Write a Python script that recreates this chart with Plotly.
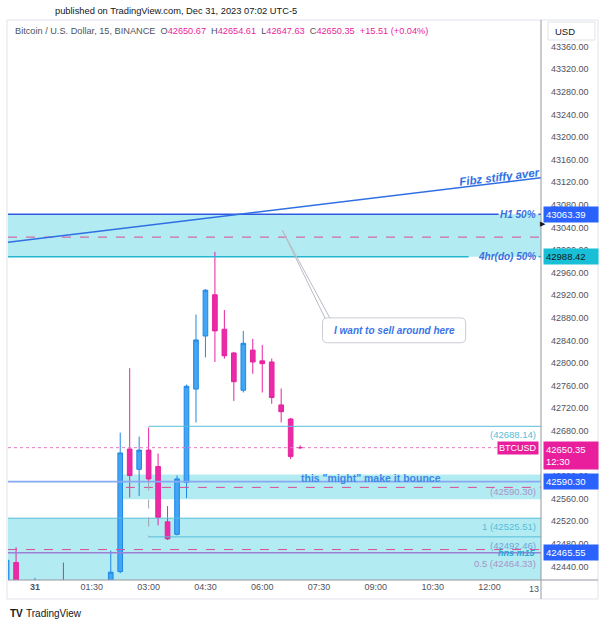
import plotly.graph_objects as go

# ---------------- data (15-min BTCUSD candles, Dec 30 23:15 .. Dec 31 07:00) ----------------
times = ["23:15", "23:30", "00:00", "00:45", "02:00", "02:15", "02:30", "02:45", "03:00",
         "03:15", "03:30", "03:45", "04:00", "04:15", "04:30", "04:45", "05:00", "05:15",
         "05:30", "05:45", "06:00", "06:15", "06:30", "06:45", "07:00"]
opens = [42380, 42447, 42390, 42412, 42395, 42431, 42648, 42612, 42646,
         42617, 42519, 42497, 42589, 42754, 42848, 42921, 42860, 42818,
         42752, 42823, 42804, 42802, 42726, 42701, 42650.67]
highs = [42452, 42474, 42420, 42447, 42468, 42677, 42791, 42670, 42686,
         42640, 42547, 42601, 42762, 42886, 42931, 42997, 42894, 42820,
         42857, 42843, 42832, 42808, 42755, 42703, 42654.61]
lows = [42360, 42370, 42370, 42380, 42385, 42428, 42562, 42565, 42588,
        42513, 42487, 42495, 42561, 42695, 42810, 42802, 42808, 42733,
        42748, 42781, 42748, 42728, 42695, 42630, 42647.63]
closes = [42451, 42395, 42405, 42395, 42430, 42641, 42601, 42646, 42595,
          42527, 42489, 42595, 42759, 42841, 42929, 42857, 42813, 42767,
          42835, 42802, 42799, 42739, 42714, 42634.84, 42650.35]

tick_hours = [0, 1.5, 3, 4.5, 6, 7.5, 9, 10.5, 12]
tick_text = ["<b>31</b>", "01:30", "03:00", "04:30", "06:00", "07:30", "09:00", "10:30", "12:00"]
price_ticks = [42440 + 40 * i for i in range(24)]  # 42440 .. 43360

# drawing levels
h1_level = 43063.39
h4_level = 42988.42
top_mid = 43023
bounce_level = 42590.30
bounce_top, bounce_bot, bounce_mid = 42603, 42559, 42580
fib_hi = 42688.14
fib_1 = 42525.51
fib_b = 42492.46
fib_05 = 42464.33
low_mid = 42470
last_price = 42650.35
hns_axis = 42465.55


def to_hours(s):
    h, m = (int(v) for v in s.split(":"))
    v = h + m / 60
    return v - 24 if h >= 20 else v


xs = [to_hours(t) for t in times]

# ---------------- geometry ----------------
W, H = 601, 625
ML, MR, MT, MB = 8, 60, 20, 45
XL, XR = -0.713, 13.36
YB, YT = 42416.1, 43407.3


def px(x):
    return (x - ML) / (W - ML - MR)


def py(y):
    return (H - MB - y) / (H - MT - MB)


FONT = "Liberation Sans, Arial, sans-serif"
BLUE = "#2962FF"
LBLUE = "#2F6FE4"
TEAL = "#22B8D0"
CYANF = "#B2EBF2"
PINK = "#E91E9C"
PDASH = "#D94E93"
PURP = "#9C7FD6"
PURT = "#A893C8"
CYT = "#55BEDA"

fig = go.Figure()
fig.add_trace(go.Candlestick(
    x=xs, open=opens, high=highs, low=lows, close=closes,
    increasing=dict(line=dict(color="#1E88E5", width=1), fillcolor="#42A5F5"),
    decreasing=dict(line=dict(color="#E6239F", width=1), fillcolor="#EC2AA8"),
    whiskerwidth=0, hoverinfo="skip", showlegend=False))

shapes = []


def hline(y, x0, x1, color, width=1, dash="solid", layer="above"):
    shapes.append(dict(type="line", xref="x", yref="y", x0=x0, x1=x1, y0=y, y1=y,
                       line=dict(color=color, width=width, dash=dash), layer=layer))


def zone(y0, y1, x0, x1):
    shapes.append(dict(type="rect", xref="x", yref="y", x0=x0, x1=x1, y0=y0, y1=y1,
                       fillcolor=CYANF, line=dict(width=0), layer="below"))


# zones
zone(h4_level, h1_level, XL, XR)
zone(bounce_bot, bounce_top, 2.33, XR)
zone(YB - 20, fib_1, XL, XR)

# top zone lines
hline(h1_level, XL, 12.24, "#3158E0", 1.5)
hline(h1_level, 13.29, XR, "#3158E0", 1.5)
hline(h4_level, XL, 11.45, TEAL, 1.5)
hline(h4_level, 13.29, XR, TEAL, 1.5)
hline(top_mid, XL, XR, PDASH, 1, "dash")

# trend line
shapes.append(dict(type="line", xref="x", yref="y", x0=XL, y0=43014, x1=XR, y1=43128,
                   line=dict(color=LBLUE, width=1.6)))

# bounce zone
hline(bounce_level, XL, XR, "#86A9F2", 1.6)
hline(bounce_mid, 2.40, XR, PDASH, 1, "dash")

# fib lines
hline(fib_hi, 3.0, XR, CYT, 1)
hline(fib_1, XL, XR, CYT, 1)
hline(fib_b, 3.0, XR, CYT, 1)
hline(low_mid, XL, XR, PDASH, 1, "dash")
hline(fib_05, XL, XR, PURP, 1.5)
shapes.append(dict(type="line", xref="x", yref="y", x0=3.0, x1=3.0, y0=bounce_level, y1=fib_b,
                   line=dict(color="#A0A3AB", width=1, dash="dash")))

# last price dotted line
hline(last_price, XL, 12.37, "#E57BC0", 1, "dot")

# callout pointer + rounded box
tip_t, tip_p = 6.53, 43035
box_t0, box_t1, box_pt, box_pb = 7.59, 11.37, 42880, 42836
for bt in (7.67, 7.80):
    shapes.append(dict(type="line", xref="x", yref="y", x0=tip_t, y0=tip_p, x1=bt, y1=box_pt - 2,
                       line=dict(color="#B8BBC3", width=1)))
rx, ry = 0.13, 8.8
x0, x1, y0, y1 = box_t0, box_t1, box_pb, box_pt
path = (f"M {x0+rx},{y1} L {x1-rx},{y1} Q {x1},{y1} {x1},{y1-ry} L {x1},{y0+ry} "
        f"Q {x1},{y0} {x1-rx},{y0} L {x0+rx},{y0} Q {x0},{y0} {x0},{y0+ry} "
        f"L {x0},{y1-ry} Q {x0},{y1} {x0+rx},{y1} Z")
shapes.append(dict(type="path", xref="x", yref="y", path=path, fillcolor="white",
                   line=dict(color="#C9CCD3", width=1)))

# panel chrome (paper coords)
shapes.append(dict(type="rect", xref="paper", yref="paper", x0=px(7), x1=px(598), y0=py(599), y1=py(20),
                   line=dict(color="#E0E3EB", width=1)))
shapes.append(dict(type="line", xref="paper", yref="paper", x0=1, x1=1, y0=py(599), y1=py(20),
                   line=dict(color="#9598A1", width=1)))
shapes.append(dict(type="line", xref="paper", yref="paper", x0=0, x1=px(598), y0=0, y1=0,
                   line=dict(color="#9598A1", width=1)))
shapes.append(dict(type="rect", xref="paper", yref="paper", x0=px(548), x1=px(595), y0=py(40), y1=py(22),
                   line=dict(color="#E0E3EB", width=1), fillcolor="white"))

ann = []


def text(x, y, s, color, size=9.5, xanchor="center", yanchor="middle", bold=False, italic=False,
         xref="x", yref="y", angle=0, yshift=0, xshift=0):
    if bold:
        s = f"<b>{s}</b>"
    if italic:
        s = f"<i>{s}</i>"
    ann.append(dict(x=x, y=y, xref=xref, yref=yref, text=s, showarrow=False, xanchor=xanchor,
                    yanchor=yanchor, textangle=angle, yshift=yshift, xshift=xshift,
                    font=dict(family=FONT, size=size, color=color)))


text(13.27, h1_level, "H1 50%", "#3B6FE0", 10, xanchor="right", bold=True, italic=True)
text(13.27, h4_level, "4hr(do) 50%", "#3B6FE0", 10, xanchor="right", bold=True, italic=True)
text(12.27, 43129, "Fibz stiffy aver", LBLUE, 11.5, bold=True, italic=True, angle=-6.9)
text((box_t0 + box_t1) / 2, (box_pt + box_pb) / 2, "I want to sell around here", "#3B74E8", 10,
     bold=True, italic=True)
text(8.86, bounce_level, "this \"might\" make it bounce", "#3F86E6", 10.5, bold=True, yshift=4)
text(13.27, bounce_level, "(42590.30)", PURT, 9.5, xanchor="right", yanchor="top", yshift=-2)
text(13.27, fib_hi, "(42688.14)", CYT, 9.5, xanchor="right", yanchor="top", yshift=-1)
text(13.27, fib_1, "1 (42525.51)", CYT, 9.5, xanchor="right", yanchor="top", yshift=-1)
text(13.27, fib_b, "(42492.46)", "#6FA5DA", 9.5, xanchor="right", yanchor="top", yshift=-1)
text(13.27, fib_05, "0.5 (42464.33)", PURT, 9.5, xanchor="right", yanchor="top", yshift=-3)
text(13.27, fib_05, "hns m15", "#2AA3D2", 9, xanchor="right", bold=True, italic=True)

# BTCUSD tag on last price line
ann.append(dict(x=1, y=last_price, xref="paper", yref="y", text="BTCUSD", showarrow=False,
                xanchor="right", xshift=-2, yanchor="middle", bgcolor=PINK, borderpad=1,
                font=dict(family=FONT, size=9, color="white")))


# price axis tags
def axis_tag(y, s, bg, fg="white", lines=1):
    ann.append(dict(x=1, y=y, xref="paper", yref="y", text=s, showarrow=False, xanchor="left",
                    xshift=2, yanchor="middle" if lines == 1 else "top", yshift=0 if lines == 1 else 7,
                    bgcolor=bg, borderpad=2, width=50, align="left",
                    font=dict(family=FONT, size=9.5, color=fg)))


axis_tag(h1_level, "43063.39", BLUE)
axis_tag(h4_level, "42988.42", "#19BFD6", "#131722")
axis_tag(last_price, "42650.35<br>12:30", PINK, lines=2)
axis_tag(bounce_level, "42590.30", BLUE)
axis_tag(hns_axis, "42465.55", BLUE)
text(1, 43047, "▶", "#131722", 7, xanchor="left", xref="paper", xshift=-3)

# header / footer
text(px(53), py(11), "published on TradingView.com, Dec 31, 2023 07:02 UTC-5", "#131722", 9.3,
     xanchor="left", xref="paper", yref="paper")
m = PINK
hdr = (f"Bitcoin / U.S. Dollar, 15, BINANCE  O<span style='color:{m}'>42650.67</span>  "
       f"H<span style='color:{m}'>42654.61</span>  L<span style='color:{m}'>42647.63</span>  "
       f"C<span style='color:{m}'>42650.35</span>  <span style='color:{m}'>+15.51 (+0.04%)</span>")
text(px(13), py(31), hdr, "#50535E", 9.2, xanchor="left", xref="paper", yref="paper")
text(px(553), py(31), "USD", "#131722", 9.5, xanchor="left", xref="paper", yref="paper")
text(1, py(589), "13", "#50535E", 9, xanchor="right", xref="paper", yref="paper")
text(px(8), py(613), "<b>TV</b>", "#131722", 10, xanchor="left", xref="paper", yref="paper")
text(px(24), py(613), "TradingView", "#131722", 10, xanchor="left", xref="paper", yref="paper")

fig.update_layout(
    width=W, height=H, margin=dict(l=ML, r=MR, t=MT, b=MB),
    paper_bgcolor="white", plot_bgcolor="white", showlegend=False,
    shapes=shapes, annotations=ann, dragmode=False,
    font=dict(family=FONT),
    xaxis=dict(range=[XL, XR], tickvals=tick_hours, ticktext=tick_text, showgrid=False,
               zeroline=False, showline=False, ticks="", rangeslider=dict(visible=False),
               tickfont=dict(family=FONT, size=9, color="#50535E")),
    yaxis=dict(range=[YB, YT], side="right", tickmode="array", tickvals=price_ticks,
               ticktext=[f"{v:.2f}" for v in price_ticks], showgrid=False,
               zeroline=False, showline=False, ticks="", ticklabelstandoff=9,
               tickfont=dict(family=FONT, size=9, color="#50535E")),
)

fig.write_html("out.html")
